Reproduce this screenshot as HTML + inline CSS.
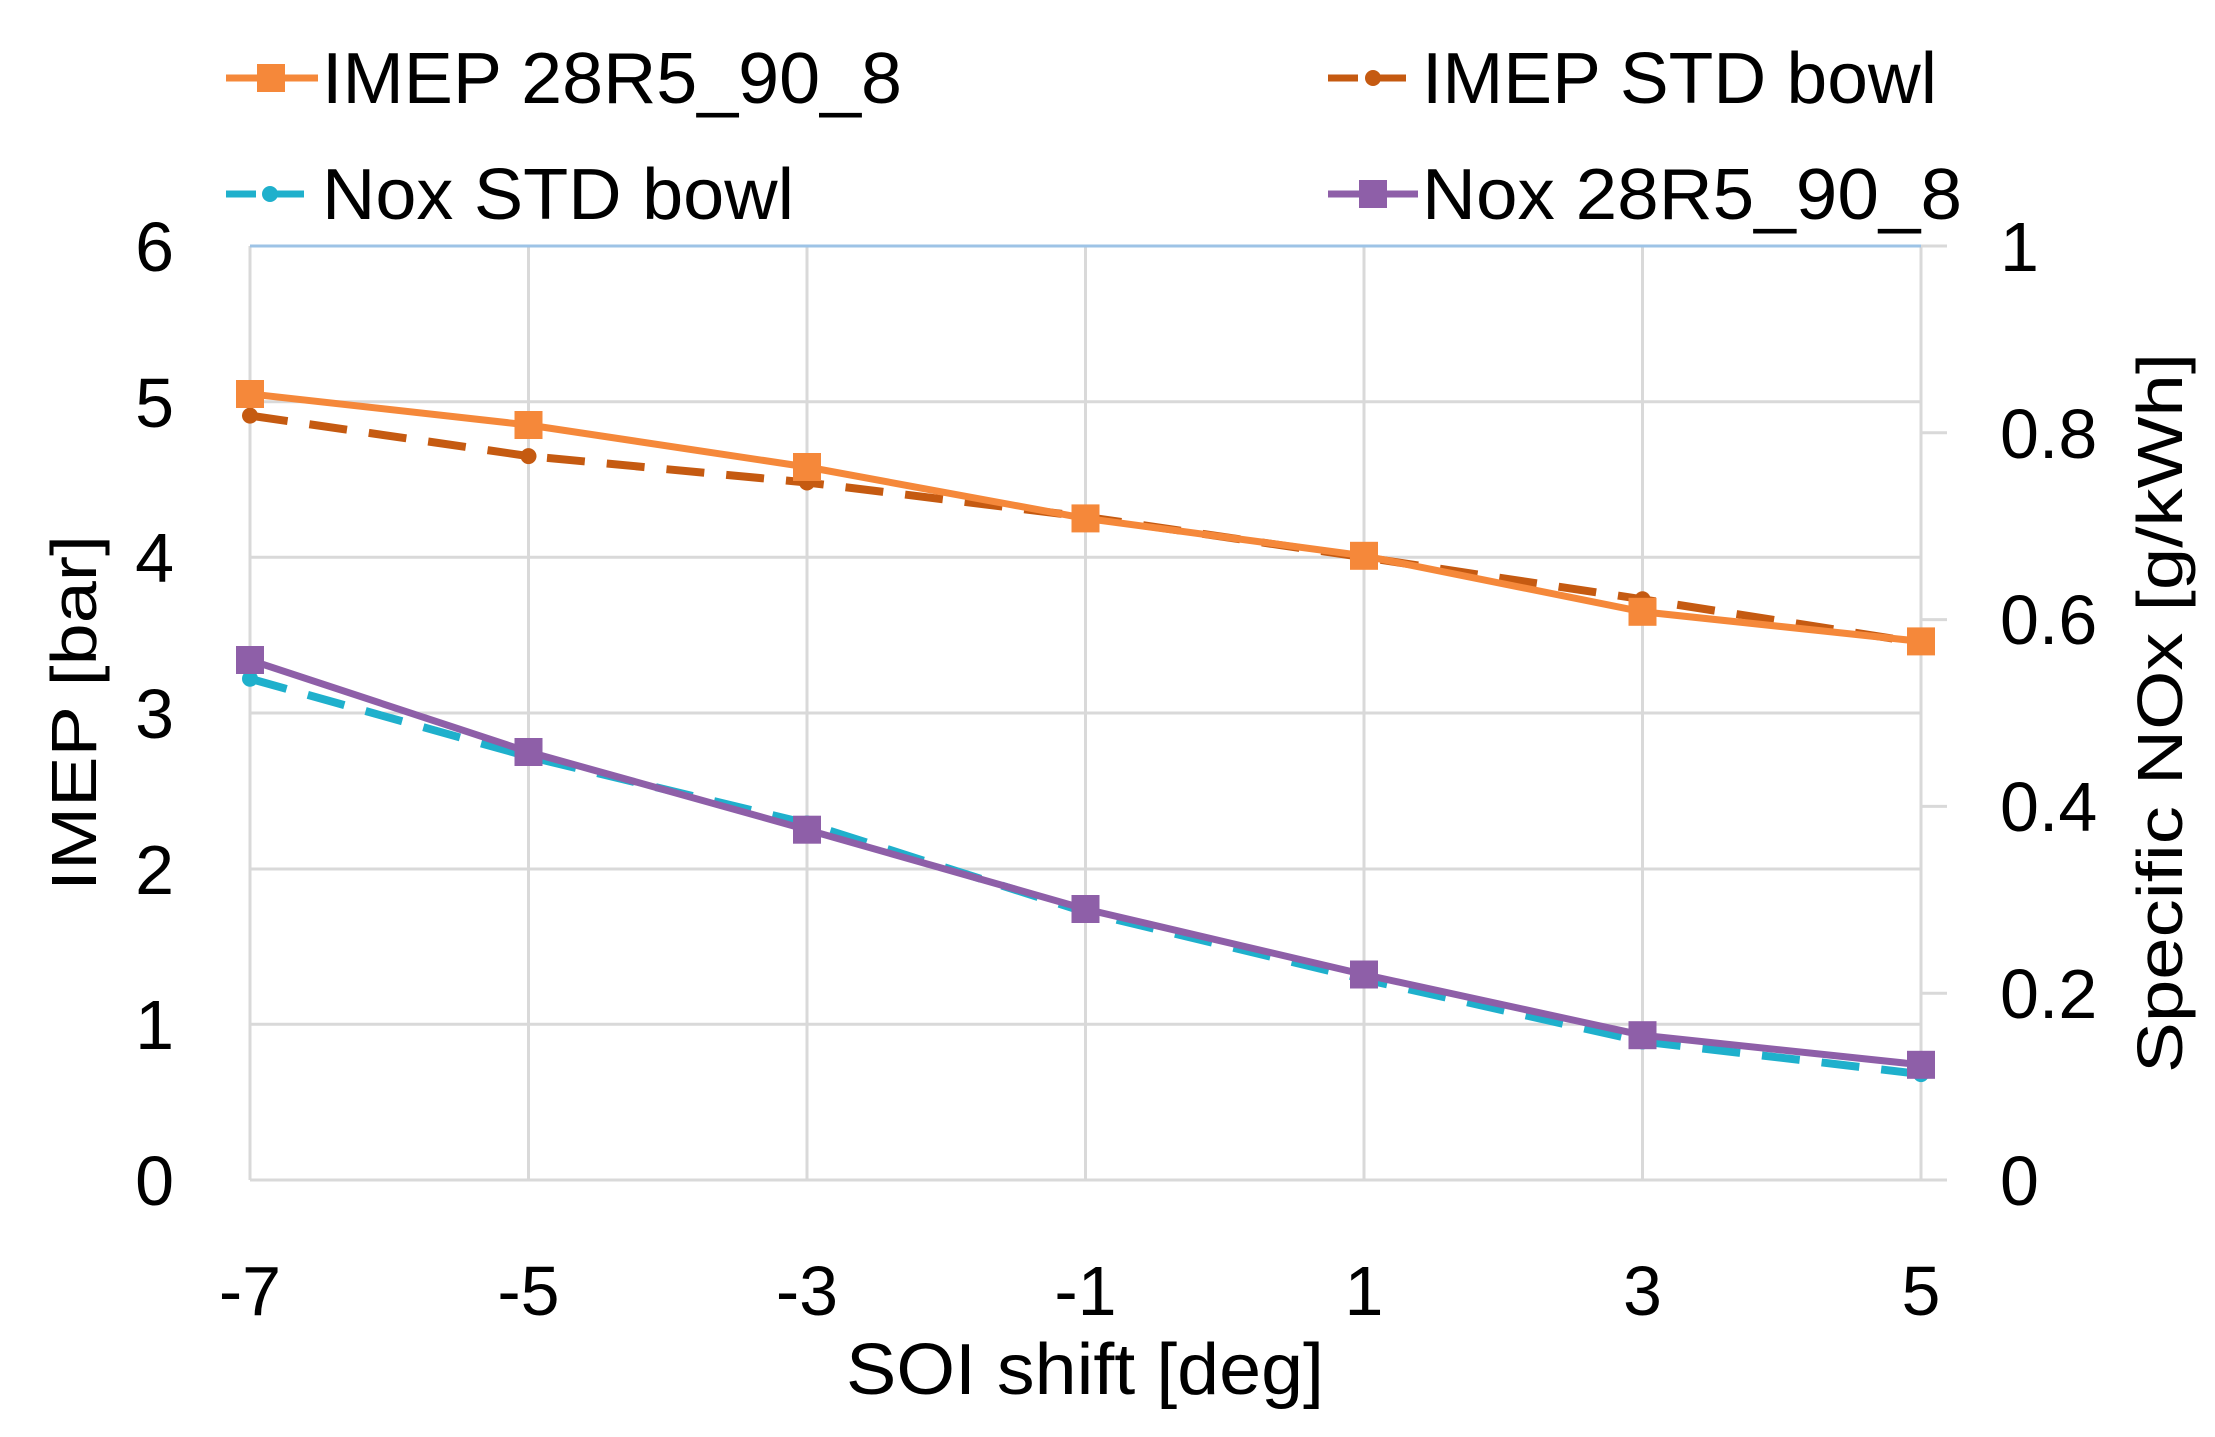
<!DOCTYPE html>
<html><head><style>body{margin:0;background:#fff}svg{display:block}</style></head><body>
<svg width="2215" height="1437" xmlns="http://www.w3.org/2000/svg" font-family="Liberation Sans, sans-serif">
<g stroke="#d9d9d9" stroke-width="3">
<line x1="250" y1="1024.3" x2="1921" y2="1024.3"/><line x1="250" y1="869" x2="1921" y2="869"/><line x1="250" y1="713" x2="1921" y2="713"/><line x1="250" y1="557.3" x2="1921" y2="557.3"/><line x1="250" y1="401.7" x2="1921" y2="401.7"/>
<line x1="528.5" y1="246" x2="528.5" y2="1180"/><line x1="807" y1="246" x2="807" y2="1180"/><line x1="1085.5" y1="246" x2="1085.5" y2="1180"/><line x1="1364" y1="246" x2="1364" y2="1180"/><line x1="1642.5" y1="246" x2="1642.5" y2="1180"/>
<line x1="250" y1="246" x2="250" y2="1180"/><line x1="1921" y1="246" x2="1921" y2="1180"/>
<line x1="250" y1="1180" x2="1947" y2="1180"/>
<line x1="1921" y1="993.2" x2="1947" y2="993.2"/><line x1="1921" y1="806.4" x2="1947" y2="806.4"/><line x1="1921" y1="619.6" x2="1947" y2="619.6"/><line x1="1921" y1="432.8" x2="1947" y2="432.8"/><line x1="1921" y1="246" x2="1947" y2="246"/>
</g>
<line x1="250" y1="246" x2="1921" y2="246" stroke="#9dc3e6" stroke-width="3"/>
<polyline fill="none" stroke="#c55a11" stroke-width="8" stroke-dasharray="38,22" points="250,415.6 528.5,456.1 807,482.5 1085.5,516.8 1364,557.3 1642.5,599.3 1921,643"/>
<g fill="#c55a11"><circle cx="250" cy="415.6" r="8"/><circle cx="528.5" cy="456.1" r="8"/><circle cx="807" cy="482.5" r="8"/><circle cx="1085.5" cy="516.8" r="8"/><circle cx="1364" cy="557.3" r="8"/><circle cx="1642.5" cy="599.3" r="8"/><circle cx="1921" cy="643" r="8"/></g>
<polyline fill="none" stroke="#f5883a" stroke-width="7" points="250,393.9 528.5,425 807,467 1085.5,518.4 1364,555.8 1642.5,611.8 1921,641.4"/>
<g fill="#f5883a"><rect x="236" y="380" width="28" height="28"/><rect x="514.5" y="411" width="28" height="28"/><rect x="793" y="453" width="28" height="28"/><rect x="1071.5" y="504.4" width="28" height="28"/><rect x="1350" y="541.8" width="28" height="28"/><rect x="1628.5" y="597.8" width="28" height="28"/><rect x="1907" y="627.4" width="28" height="28"/></g>
<polyline fill="none" stroke="#1fb0cc" stroke-width="8" stroke-dasharray="38,22" points="250,678.7 528.5,756.6 807,823.5 1085.5,912.2 1364,979.2 1642.5,1041.5 1921,1074.1"/>
<g fill="#1fb0cc"><circle cx="250" cy="678.7" r="8"/><circle cx="528.5" cy="756.6" r="8"/><circle cx="807" cy="823.5" r="8"/><circle cx="1085.5" cy="912.2" r="8"/><circle cx="1364" cy="979.2" r="8"/><circle cx="1642.5" cy="1041.5" r="8"/><circle cx="1921" cy="1074.1" r="8"/></g>
<polyline fill="none" stroke="#8e5fa8" stroke-width="7" points="250,660.1 528.5,751.9 807,829.7 1085.5,909.1 1364,974.5 1642.5,1035.2 1921,1064.8"/>
<g fill="#8e5fa8"><rect x="236" y="646" width="28" height="28"/><rect x="514.5" y="738" width="28" height="28"/><rect x="793" y="815.7" width="28" height="28"/><rect x="1071.5" y="895" width="28" height="28"/><rect x="1350" y="960.5" width="28" height="28"/><rect x="1628.5" y="1021.2" width="28" height="28"/><rect x="1907" y="1050.8" width="28" height="28"/></g>
<g font-size="70" fill="#000" text-anchor="end">
<text x="174" y="1205">0</text><text x="174" y="1049">1</text><text x="174" y="894">2</text><text x="174" y="738">3</text><text x="174" y="582">4</text><text x="174" y="427">5</text><text x="174" y="271">6</text>
</g>
<g font-size="70" fill="#000">
<text x="2000" y="1205">0</text><text x="2000" y="1018">0.2</text><text x="2000" y="831">0.4</text><text x="2000" y="644">0.6</text><text x="2000" y="458">0.8</text><text x="2000" y="271">1</text>
</g>
<g font-size="70" fill="#000" text-anchor="middle">
<text x="250" y="1315">-7</text><text x="528.5" y="1315">-5</text><text x="807" y="1315">-3</text><text x="1085.5" y="1315">-1</text><text x="1364" y="1315">1</text><text x="1642.5" y="1315">3</text><text x="1921" y="1315">5</text>
<text x="1085" y="1394" font-size="72" textLength="478" lengthAdjust="spacingAndGlyphs">SOI shift [deg]</text>
<text transform="translate(96,713) rotate(-90)" font-size="64" textLength="356" lengthAdjust="spacingAndGlyphs">IMEP [bar]</text>
<text transform="translate(2182,713) rotate(-90)" font-size="64" textLength="720" lengthAdjust="spacingAndGlyphs">Specific NOx [g/kWh]</text>
</g>
<g stroke-width="7">
<line x1="226" y1="78" x2="318" y2="78" stroke="#f5883a"/>
<line x1="1328" y1="78" x2="1418" y2="78" stroke="#c55a11" stroke-dasharray="30,18"/>
<line x1="226" y1="194" x2="318" y2="194" stroke="#1fb0cc" stroke-dasharray="30,18"/>
<line x1="1328" y1="194" x2="1418" y2="194" stroke="#8e5fa8"/>
</g>
<rect x="257" y="64" width="28" height="28" fill="#f5883a"/>
<circle cx="1373" cy="78" r="8" fill="#c55a11"/>
<circle cx="270" cy="194" r="8" fill="#1fb0cc"/>
<rect x="1359" y="180" width="28" height="28" fill="#8e5fa8"/>
<g font-size="72" fill="#000">
<text x="322" y="103" textLength="580" lengthAdjust="spacingAndGlyphs">IMEP 28R5_90_8</text>
<text x="1422" y="103" textLength="515" lengthAdjust="spacingAndGlyphs">IMEP STD bowl</text>
<text x="322" y="219" textLength="472" lengthAdjust="spacingAndGlyphs">Nox STD bowl</text>
<text x="1422" y="219" textLength="540" lengthAdjust="spacingAndGlyphs">Nox 28R5_90_8</text>
</g>
</svg>
</body></html>
